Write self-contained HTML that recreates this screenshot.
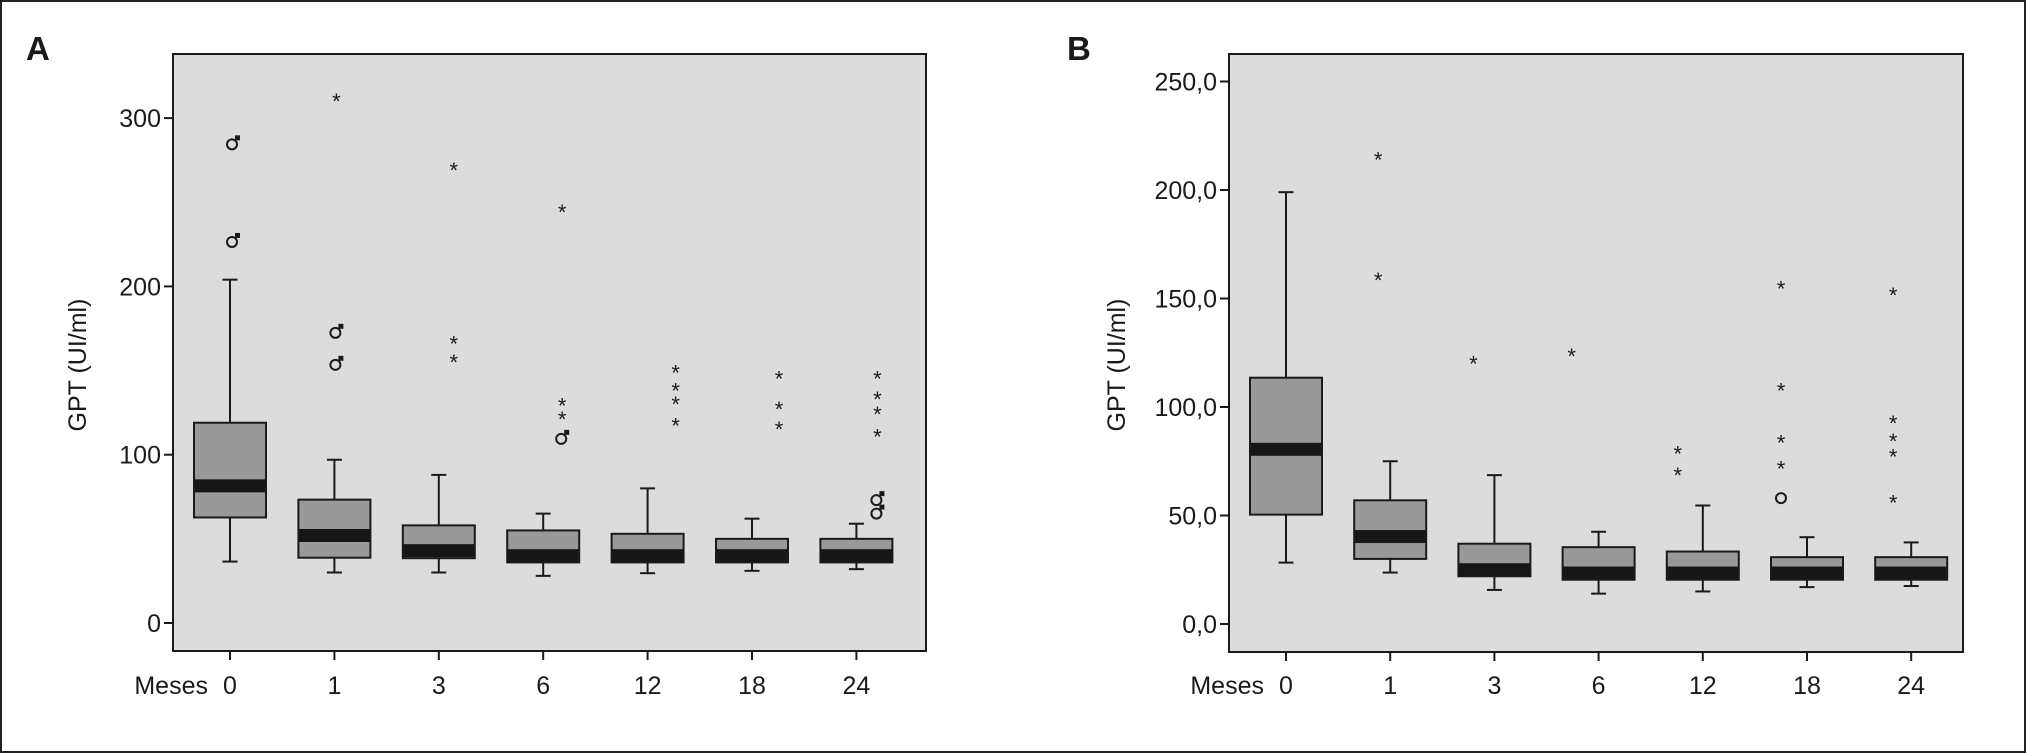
<!DOCTYPE html>
<html><head><meta charset="utf-8">
<style>
html,body{margin:0;padding:0;background:#fff;}
svg{display:block;font-family:"Liberation Sans",sans-serif;}
</style></head>
<body>
<svg id="fig" width="2026" height="753" viewBox="0 0 2026 753" xmlns="http://www.w3.org/2000/svg">
<rect x="1" y="1" width="2024" height="751" fill="#fff" stroke="#222" stroke-width="2"/>
</svg>
<script>
// ---- Panel A data ----
const catsA = ["0","1","3","6","12","18","24"];
const q1A = [62.7, 38.8, 38.5, 36, 36, 36, 36];
const q3A = [119, 73.3, 58, 55, 53, 50, 50];
const medA = [81.5, 52, 43, 40, 40, 40, 40];
const loA = [36.5, 30, 30, 28, 29.6, 31, 32];
const hiA = [204, 97, 88, 65, 80, 62, 59];
const starsA = [[], [312], [271, 168, 157], [246, 131, 123], [150.5, 140, 132, 119], [147, 129, 117], [147, 135, 126, 112.6]];
const maleA = [[285, 227], [173, 154], [], [110], [], [], [73.6, 65.6]];
const circA = [[], [], [], [], [], [], []];
const ticksA = [0, 100, 200, 300];
const tickLabelsA = ["0", "100", "200", "300"];
// ---- Panel B data ----
const catsB = ["0","1","3","6","12","18","24"];
const q1B = [50.4, 30, 22, 20.4, 20.4, 20.4, 20.4];
const q3B = [113.5, 57, 37, 35.4, 33.4, 30.8, 30.8];
const medB = [80.5, 40.3, 25, 23.5, 23.5, 23.5, 23.5];
const loB = [28.3, 23.7, 15.7, 14, 15, 17, 17.5];
const hiB = [199, 75, 68.6, 42.5, 54.6, 40, 37.6];
const starsB = [[], [215.5, 160], [121.5], [125], [80, 70], [156, 109, 85, 73], [153, 94, 85.6, 78.5, 57.3]];
const maleB = [[], [], [], [], [], [], []];
const circB = [[], [], [], [], [], [58], []];
const ticksB = [0, 50, 100, 150, 200, 250];
const tickLabelsB = ["0,0", "50,0", "100,0", "150,0", "200,0", "250,0"];

const NS = "http://www.w3.org/2000/svg";
const svg = document.getElementById("fig");
function mk(tag, attrs, parent) {
  const e = document.createElementNS(NS, tag);
  for (const k in attrs) e.setAttribute(k, attrs[k]);
  (parent || svg).appendChild(e);
  return e;
}

function panel(cfg) {
  const g = mk("g", {});
  
  
  const y = v => cfg.y0 - (v - cfg.vmin) * cfg.ppu;
  const x = i => cfg.cx0 + i * cfg.step;
  const bg = mk("rect", {x: cfg.L, y: cfg.T, width: cfg.R - cfg.L, height: cfg.B - cfg.T, fill: "#dcdcdc", stroke: "#1a1a1a", "stroke-width": 2}, g);
  
  
  // y ticks
  cfg.ticks.forEach((t, i) => {
    const yy = y(t);
    const tk = mk("line", {x1: cfg.L - 9, x2: cfg.L, y1: yy, y2: yy, stroke: "#1a1a1a", "stroke-width": 2}, g);
    
    
    const tl = mk("text", {x: cfg.L - 12, y: yy + 9, "text-anchor": "end", "font-size": 25, fill: "#1a1a1a"}, g);
    tl.textContent = cfg.tickLabels[i];
    
    
  });
  // x ticks/labels
  cfg.cats.forEach((c, i) => {
    const xx = x(i);
    const tk = mk("line", {x1: xx, x2: xx, y1: cfg.B, y2: cfg.B + 9, stroke: "#1a1a1a", "stroke-width": 2}, g);
    
    
    const tl = mk("text", {x: xx, y: 694, "text-anchor": "middle", "font-size": 25, fill: "#1a1a1a"}, g);
    tl.textContent = c;
    
    
  });
  const ms = mk("text", {x: x(0) - 22, y: 694, "text-anchor": "end", "font-size": 25, fill: "#1a1a1a"}, g);
  ms.textContent = "Meses";
  
  
  const yt = mk("text", {x: 0, y: 0, "text-anchor": "middle", "font-size": 25, fill: "#1a1a1a", transform: `translate(${cfg.ytx},${cfg.yty}) rotate(-90)`}, g);
  yt.textContent = "GPT (UI/ml)";
  
  
  const pl = mk("text", {x: cfg.lx, y: 60, "font-size": 33, "font-weight": "bold", fill: "#1a1a1a"}, g);
  pl.textContent = cfg.label;
  
  
  // boxes
  const bw = 72, cw = 15, mh = 13;
  cfg.cats.forEach((c, i) => {
    const xx = x(i);
    const bg2 = mk("g", {}, g);
    
    
    const sw = {stroke: "#1a1a1a", "stroke-width": 2};
    mk("line", Object.assign({x1: xx, x2: xx, y1: y(cfg.hi[i]), y2: y(cfg.q3[i])}, sw), bg2);
    mk("line", Object.assign({x1: xx, x2: xx, y1: y(cfg.q1[i]), y2: y(cfg.lo[i])}, sw), bg2);
    mk("line", Object.assign({x1: xx - cw / 2, x2: xx + cw / 2, y1: y(cfg.hi[i]), y2: y(cfg.hi[i])}, sw), bg2);
    mk("line", Object.assign({x1: xx - cw / 2, x2: xx + cw / 2, y1: y(cfg.lo[i]), y2: y(cfg.lo[i])}, sw), bg2);
    const top = y(cfg.q3[i]), bot = y(cfg.q1[i]);
    mk("rect", {x: xx - bw / 2, y: top, width: bw, height: bot - top, fill: "#999"}, bg2);
    let m0 = y(cfg.med[i]) - mh / 2, m1 = y(cfg.med[i]) + mh / 2;
    m0 = Math.max(m0, top); m1 = Math.min(m1, bot);
    mk("rect", {x: xx - bw / 2, y: m0, width: bw, height: m1 - m0, fill: "#161616"}, bg2);
    mk("rect", {x: xx - bw / 2, y: top, width: bw, height: bot - top, fill: "none", stroke: "#1a1a1a", "stroke-width": 2}, bg2);
    const ox = xx + cfg.off[i];
    cfg.stars[i].forEach(v => {
      const s = mk("text", {x: ox, y: y(v) + 11, "text-anchor": "middle", "font-size": 22, fill: "#1a1a1a"}, bg2);
      s.textContent = "*";
      
      
    });
    cfg.male[i].forEach(v => {
      const yy = y(v);
      const m = mk("g", {}, bg2);
      
      
      mk("circle", {cx: ox - 1, cy: yy + 1, r: 5, fill: "none", stroke: "#1a1a1a", "stroke-width": 2}, m);
      mk("rect", {x: ox + 2, y: yy - 8, width: 5, height: 5, fill: "#1a1a1a"}, m);
    });
    cfg.circ[i].forEach(v => {
      const c2 = mk("circle", {cx: ox, cy: y(v), r: 5, fill: "none", stroke: "#1a1a1a", "stroke-width": 2}, bg2);
      
      
    });
  });
}

panel({name: "panel-a", label: "A", lx: 26, L: 173, R: 926, T: 54, B: 651, y0: 623, vmin: 0, ppu: 1.683,
  cx0: 230, step: 104.4, ticks: ticksA, tickLabels: tickLabelsA, cats: catsA,
  q1: q1A, q3: q3A, med: medA, lo: loA, hi: hiA, stars: starsA, male: maleA, circ: circA,
  off: [3, 2, 15, 19, 28, 27, 21], ytx: 86, yty: 365});
panel({name: "panel-b", label: "B", lx: 1067, L: 1229, R: 1963, T: 54, B: 652, y0: 624, vmin: 0, ppu: 2.17,
  cx0: 1286, step: 104.2, ticks: ticksB, tickLabels: tickLabelsB, cats: catsB,
  q1: q1B, q3: q3B, med: medB, lo: loB, hi: hiB, stars: starsB, male: maleB, circ: circB,
  off: [0, -12, -21, -27, -25, -26, -18], ytx: 1125, yty: 365});
</script>
</body></html>
